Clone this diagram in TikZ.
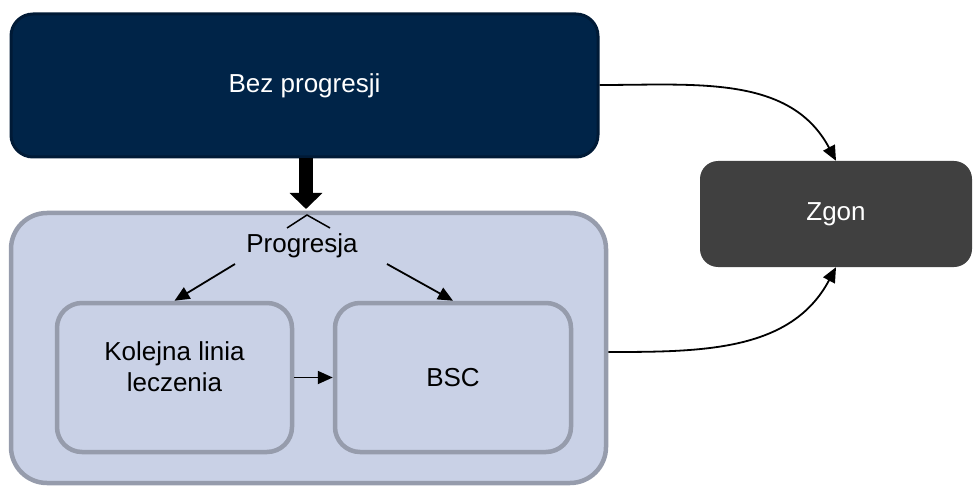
\documentclass[tikz,border=0pt]{standalone}
\usepackage{fontspec}
\setmainfont{Liberation Sans}
\usepackage{tikz}
\usetikzlibrary{arrows.meta}

\definecolor{navy}{RGB}{0,36,72}
\definecolor{navyline}{RGB}{0,26,54}
\definecolor{paleblue}{RGB}{201,209,230}
\definecolor{framegray}{RGB}{150,156,172}
\definecolor{zgongray}{RGB}{64,64,64}

\tikzset{
  stage/.style={draw=framegray, line width=4.5pt, fill=paleblue, align=center, inner sep=0pt},
  arr/.style={-{Triangle[width=13pt,length=15pt]}, line width=1.8pt, black},
}

\begin{document}
\begin{tikzpicture}[x=1pt, y=-1pt, font=\fontsize{26}{31}\selectfont]

   \useasboundingbox (0,0) rectangle (973,486);

   % progression block
   \node[stage, rounded corners=36pt, minimum width=595pt, minimum height=270pt] (prog) at (308.5,348) {};
   \node[stage, rounded corners=25pt, minimum width=235pt, minimum height=149pt] (kol) at (174.5,377.5) {Kolejna linia\\leczenia\\[-10pt]};
   \node[stage, rounded corners=25pt, minimum width=236pt, minimum height=149pt] (bsc) at (453,377.5) {BSC};
   \node (progtxt) at (302,246) {Progresja};
   \coordinate (pl) at (235,264);
   \coordinate (pr) at (387,264);

   \draw[arr] (pl) -- (kol.north);
   \draw[arr] (pr) -- (bsc.north);
   \draw[arr] (kol.east) -- (bsc.west);

   % no progression and death
   \node[draw=navyline, line width=3pt, fill=navy, text=white, rounded corners=22pt,
         minimum width=587pt, minimum height=143pt] (bez) at (304.5,85.5) {Bez progresji};
   \node[fill=zgongray, text=white, rounded corners=18pt,
         minimum width=272pt, minimum height=106pt] (zgon) at (836,214) {Zgon};

   \draw[arr] (bez.east |- 0,85) to[out=0, in=118] (zgon.north);
   \draw[arr] (prog.east |- 0,352) to[out=0, in=-118] (zgon.south);

   \draw[-{Triangle[width=32pt,length=16pt]}, line width=14pt] (bez.south -| 306,0) -- (306,209);
   \draw[line width=1.5pt] (287,228) -- (307,215) -- (330,228);
\end{tikzpicture}
\end{document}
